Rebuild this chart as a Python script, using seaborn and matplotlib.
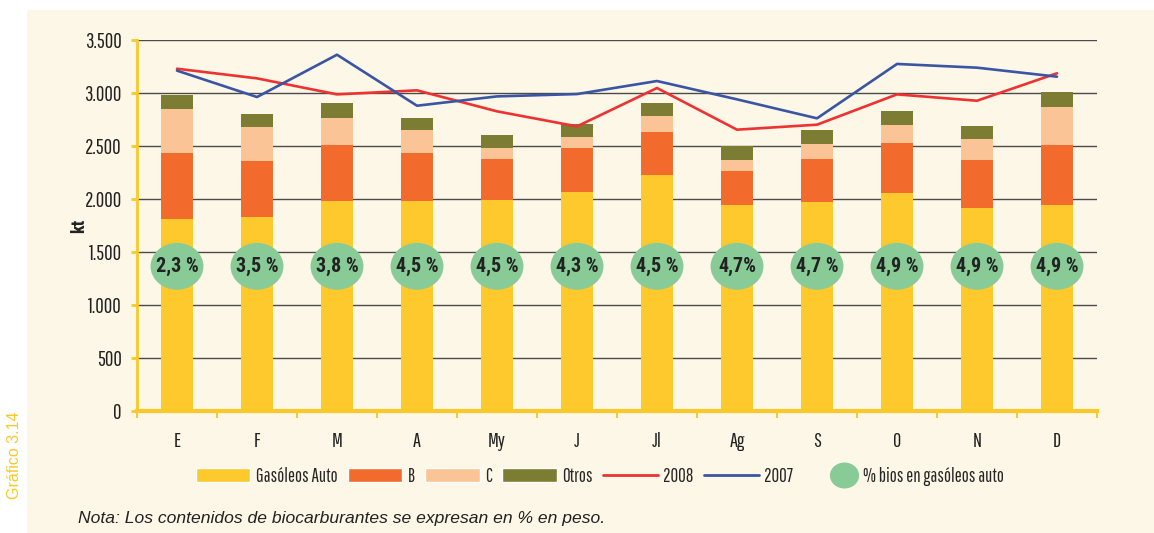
import matplotlib
matplotlib.use("Agg")
import matplotlib.pyplot as plt
import seaborn as sns
import numpy as np
import pandas as pd
from matplotlib import font_manager
from matplotlib.patches import Rectangle, Patch
from matplotlib.lines import Line2D
from matplotlib.path import Path
from matplotlib.transforms import Affine2D
from matplotlib.ticker import FuncFormatter, FixedLocator
from matplotlib.legend_handler import HandlerLine2D

# data (kt)
months = ['E', 'F', 'M', 'A', 'My', 'J', 'Jl', 'Ag', 'S', 'O', 'N', 'D']
gasoleos = [1815, 1833, 1984, 1984, 1993, 2068, 2229, 1946, 1974, 2059, 1917, 1946]
gas_b = [622, 529, 528, 453, 387, 416, 406, 321, 406, 472, 454, 566]
gas_c = [415, 320, 255, 217, 104, 104, 151, 104, 142, 170, 198, 358]
otros = [132, 123, 141, 113, 123, 122, 122, 126, 132, 132, 122, 142]
total_2008 = [3229, 3138, 2987, 3025, 2827, 2685, 3047, 2654, 2701, 2987, 2927, 3186]
total_2007 = [3211, 2962, 3361, 2880, 2968, 2990, 3113, 2940, 2761, 3274, 3239, 3154]
bios_pct = ['2,3 %', '3,5 %', '3,8 %', '4,5 %', '4,5 %', '4,3 %', '4,5 %', '4,7%', '4,7 %', '4,9 %', '4,9 %', '4,9 %']

YELLOW = '#FDC92C'
ORANGE = '#F26B2C'
PEACH = '#FBC497'
OLIVE = '#7C7D33'
RED = '#EE3232'
BLUE = '#3A55A4'
GREEN = '#88CB96'
AXIS_YELLOW = '#F9C929'
CREAM = '#FDF7E7'

installed = {f.name for f in font_manager.fontManager.ttflist}


def pick(*fams):
    for f in fams:
        if f in installed:
            return [f, 'DejaVu Sans']
    return ['DejaVu Sans']


COND = pick('Pathway Gothic One', 'Roboto Condensed', 'Liberation Sans Narrow')
COND_BOLD = pick('Roboto Condensed', 'Oswald', 'Liberation Sans Narrow')
ARIAL = pick('Liberation Sans', 'Arimo')


class RightMarker(HandlerLine2D):
    # put the legend marker at the right end of its handle box
    def create_artists(self, legend, orig_handle, xdescent, ydescent, width, height,
                       fontsize, trans):
        arts = super().create_artists(legend, orig_handle, xdescent, ydescent, width,
                                      height, fontsize, trans)
        for a in arts:
            a.set_xdata([width - xdescent - 10])
        return arts


sns.set_style('white')
plt.rcParams['font.family'] = COND

df = pd.DataFrame({'mes': months, 'gas': gasoleos, 'b': gas_b, 'c': gas_c, 'otros': otros})
df['l1'] = df['gas']
df['l2'] = df['l1'] + df['b']
df['l3'] = df['l2'] + df['c']
df['l4'] = df['l3'] + df['otros']

fig = plt.figure(figsize=(11.54, 5.33), dpi=100)
fig.patches.append(Rectangle((27 / 1154, 0), 1, 1 - 10 / 533, transform=fig.transFigure,
                             facecolor=CREAM, edgecolor='none', zorder=-10))
ax = fig.add_axes([137 / 1154, 1 - 411 / 533, 960 / 1154, 371 / 533])
ax.set_facecolor('none')

# stacked bars: draw cumulative totals, tallest first
for col, c in [('l4', OLIVE), ('l3', PEACH), ('l2', ORANGE), ('l1', YELLOW)]:
    sns.barplot(data=df, x='mes', y=col, color=c, saturation=1, width=0.41,
                order=months, ax=ax, zorder=2, linewidth=0, edgecolor='none')

xs = np.arange(len(months))
sns.lineplot(x=xs, y=total_2008, color=RED, linewidth=1.9, ax=ax, zorder=4)
sns.lineplot(x=xs, y=total_2007, color=BLUE, linewidth=1.9, ax=ax, zorder=4)

# ellipse marker for % bios
ell = Path.unit_circle().transformed(Affine2D().scale(1.13, 1.0))
circ_y = [1365] * len(months)
sns.scatterplot(x=xs, y=circ_y, marker=ell, s=1450, color=GREEN, edgecolor='none',
                ax=ax, zorder=5, legend=False)
for x, y, t in zip(xs, circ_y, bios_pct):
    ax.text(x, y, t, ha='center', va='center', fontsize=14.5, fontweight='bold',
            color='#222222', zorder=6, family=COND_BOLD)

ax.set_xlim(-0.5, 11.5)
ax.set_ylim(0, 3500)
ax.set_yticks(np.arange(0, 3501, 500))
ax.yaxis.set_major_formatter(FuncFormatter(lambda v, p: f'{int(v):,}'.replace(',', '.')))
ax.grid(False)
for v in range(500, 3501, 500):
    ax.axhline(v, color='#4a4a4a', linewidth=1, zorder=1)

ax.set_xticks(xs)
ax.set_xticklabels(months)
ax.xaxis.set_minor_locator(FixedLocator(np.arange(-0.5, 12, 1)))
ax.tick_params(axis='x', which='major', length=0, pad=15, labelsize=14.5, labelcolor='#222222')
ax.tick_params(axis='x', which='minor', length=5, width=1.5, color=AXIS_YELLOW, direction='out',
               bottom=True)
ax.tick_params(axis='y', which='major', length=4, width=2, color=AXIS_YELLOW, direction='out',
               pad=7, labelsize=15, labelcolor='#222222', left=True)
ax.set_xlabel('')
ax.set_ylabel('kt', fontsize=13, fontweight='bold', color='#222222', family=COND_BOLD)
ax.yaxis.set_label_coords(-0.051, 0.5)

for s in ['top', 'right']:
    ax.spines[s].set_visible(False)
ax.spines['left'].set_color(AXIS_YELLOW)
ax.spines['left'].set_linewidth(2)
ax.spines['bottom'].set_color(AXIS_YELLOW)
ax.spines['bottom'].set_linewidth(3)
ax.spines['bottom'].set_zorder(3)

bios_handle = Line2D([], [], color=GREEN, marker=ell, markersize=20, linestyle='none',
                     label='% bios en gasóleos auto')
handles = [
    Patch(facecolor=YELLOW, label='Gasóleos Auto'),
    Patch(facecolor=ORANGE, label='B'),
    Patch(facecolor=PEACH, label='C'),
    Patch(facecolor=OLIVE, label='Otros'),
    Line2D([], [], color=RED, linewidth=2, label='2008'),
    Line2D([], [], color=BLUE, linewidth=2, label='2007'),
    bios_handle,
]
fig.legend(handles=handles, loc='center', bbox_to_anchor=(0.52, 1 - 476 / 533), ncol=7,
           frameon=False, fontsize=13.5, handlelength=2.9, handleheight=0.8,
           handletextpad=0.3, columnspacing=0.55,
           handler_map={bios_handle: RightMarker()})

fig.text(15 / 1154, 1 - 455 / 533, 'Gráfico 3.14', rotation=90, ha='center', va='center',
         fontsize=11.5, color=AXIS_YELLOW, family=ARIAL)
fig.text(78 / 1154, 1 - 518 / 533, 'Nota: Los contenidos de biocarburantes se expresan en % en peso.',
         ha='left', va='center', fontsize=12.6, style='italic', color='#222222', family=ARIAL)

fig.savefig('out.png', dpi=100)
